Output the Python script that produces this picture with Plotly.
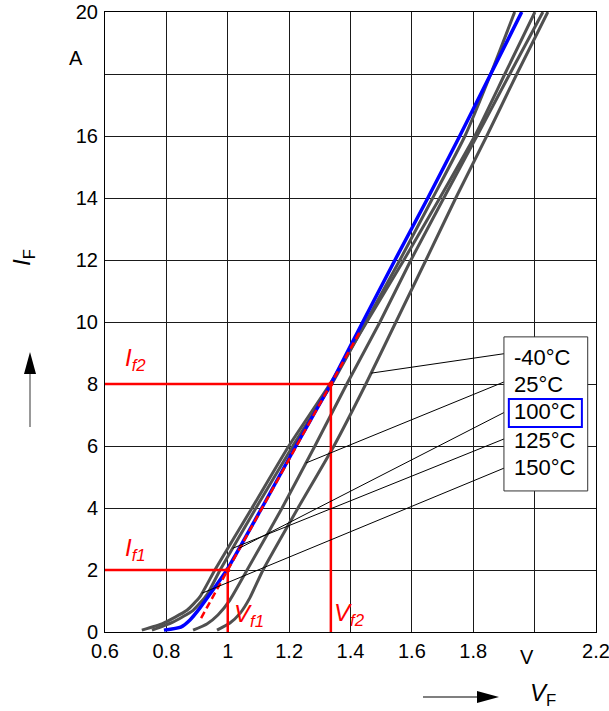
import numpy as np
import plotly.graph_objects as go

# Forward characteristics I_F = f(V_F) for several junction temperatures
i_m40 = [0.06, 0.29, 0.6, 1.1, 2, 4, 6, 8, 10, 12, 14, 16, 18, 20]
v_m40 = [0.965, 1.007, 1.040, 1.072, 1.115, 1.229, 1.346, 1.450, 1.548, 1.646, 1.743, 1.844, 1.942, 2.043]

i_25 = [0.06, 0.26, 0.55, 1.03, 2, 4, 6, 8, 10, 12, 14, 16, 18, 20]
v_25 = [0.887, 0.932, 0.968, 1.007, 1.063, 1.177, 1.284, 1.388, 1.496, 1.597, 1.704, 1.812, 1.919, 2.027]

i_100 = [0.06, 0.16, 0.39, 0.77, 2, 4, 6, 8, 10, 12, 14, 16, 18, 20]
v_100 = [0.792, 0.847, 0.877, 0.909, 0.997, 1.111, 1.222, 1.336, 1.440, 1.545, 1.652, 1.756, 1.857, 1.958]

i_125 = [0.06, 0.32, 0.7, 1.2, 2, 4, 6, 8, 10, 12, 14, 16, 18, 20]
v_125 = [0.753, 0.821, 0.887, 0.932, 0.975, 1.092, 1.212, 1.339, 1.450, 1.561, 1.668, 1.773, 1.857, 1.935]

i_150 = [0.06, 0.28, 0.7, 1.13, 2, 4, 6, 8, 10, 12, 14, 16, 18, 20]
v_150 = [0.720, 0.789, 0.867, 0.909, 0.958, 1.079, 1.199, 1.333, 1.453, 1.574, 1.691, 1.805, 1.903, 2.001]

# Linearisation points (threshold voltage / slope resistance construction)
vf1, if1 = 1.0, 2.0
vf2, if2 = 1.336, 8.0
tangent_current_span = [0.45, 9.65]

# Temperature labels and where their leader lines touch each curve (current in A)
temp_labels = ["-40°C", "25°C", "100°C", "125°C", "150°C"]
label_currents = [8.84, 7.97, 7.10, 6.19, 5.32]
leader_start_currents = [9.0, 8.13, 7.16, 6.29, 5.35]
leader_end_currents = [8.35, 5.45, 2.7, 2.7, 1.25]

x_ticks = [0.6, 0.8, 1.0, 1.2, 1.4, 1.6, 1.8, 2.0, 2.2]
x_ticktext = ["0.6", "0.8", "1", "1.2", "1.4", "1.6", "1.8", "", "2.2"]
y_ticks = [0, 2, 4, 6, 8, 10, 12, 14, 16, 18, 20]
y_ticktext = ["0", "2", "4", "6", "8", "10", "12", "14", "16", "", "20"]

W, H = 609, 711
ML, MR, MT, MB = 105, 13, 12, 79
PW, PH = W - ML - MR, H - MT - MB

FONT = "Liberation Sans, Arial, sans-serif"
GRAY = "#505050"
RED = "#ff0000"
BLUE = "#0000ff"


def paper(px, py):
    return (px - ML) / PW, (H - MB - py) / PH


fig = go.Figure()

curves = [
    (v_m40, i_m40, GRAY, 3),
    (v_25, i_25, GRAY, 3),
    (v_150, i_150, GRAY, 3),
    (v_125, i_125, GRAY, 3),
    (v_100, i_100, BLUE, 3.5),
]
for v, i, col, w in curves:
    fig.add_trace(go.Scatter(x=v, y=i, mode="lines",
                             line=dict(color=col, width=w, shape="spline", smoothing=0.5),
                             hoverinfo="skip", showlegend=False))

# Tangent through the two linearisation points
slope = (if2 - if1) / (vf2 - vf1)
t_i = np.array(tangent_current_span)
t_v = vf1 + (t_i - if1) / slope
fig.add_trace(go.Scatter(x=t_v, y=t_i, mode="lines",
                         line=dict(color=RED, width=2.5, dash="7px,4px"),
                         hoverinfo="skip", showlegend=False))

# Construction lines to the axes
for vf, iff in [(vf1, if1), (vf2, if2)]:
    fig.add_trace(go.Scatter(x=[0.6, vf, vf], y=[iff, iff, 0], mode="lines",
                             line=dict(color=RED, width=2.5),
                             hoverinfo="skip", showlegend=False))
fig.add_trace(go.Scatter(x=[vf1, vf2], y=[if1, if2], mode="markers",
                         marker=dict(color=RED, size=5),
                         hoverinfo="skip", showlegend=False))

# Leader lines from the temperature labels to the curves
curve_by_label = [(v_m40, i_m40), (v_25, i_25), (v_100, i_100), (v_125, i_125), (v_150, i_150)]
for (v, i), i_start, i_end in zip(curve_by_label, leader_start_currents, leader_end_currents):
    v_end = float(np.interp(i_end, i, v))
    fig.add_trace(go.Scatter(x=[1.916, v_end], y=[i_start, i_end], mode="lines",
                             line=dict(color="black", width=1),
                             hoverinfo="skip", showlegend=False))

shapes = []
# Label box
shapes.append(dict(type="rect", xref="x", yref="y", x0=1.900, x1=2.173, y0=4.55, y1=9.52,
                   line=dict(color="#333333", width=1), fillcolor="white", layer="above"))
# Highlight frame around the 100°C label
shapes.append(dict(type="rect", xref="x", yref="y", x0=1.916, x1=2.154, y0=6.61, y1=7.52,
                   line=dict(color=BLUE, width=2), layer="above"))

# Direction arrows next to the axis titles
x0, y0 = paper(30, 427)
x1, y1 = paper(30, 372)
shapes.append(dict(type="line", xref="paper", yref="paper", x0=x0, y0=y0, x1=x1, y1=y1,
                   line=dict(color="#555555", width=1.2)))
a, b = paper(24, 374)
c, d = paper(36, 374)
e, f = paper(30, 352)
shapes.append(dict(type="path", xref="paper", yref="paper",
                   path=f"M{a},{b} L{c},{d} L{e},{f} Z", fillcolor="black", line=dict(width=0)))

x0, y0 = paper(423, 697)
x1, y1 = paper(480, 697)
shapes.append(dict(type="line", xref="paper", yref="paper", x0=x0, y0=y0, x1=x1, y1=y1,
                   line=dict(color="black", width=1.2)))
a, b = paper(477, 691)
c, d = paper(477, 703)
e, f = paper(499, 697)
shapes.append(dict(type="path", xref="paper", yref="paper",
                   path=f"M{a},{b} L{c},{d} L{e},{f} Z", fillcolor="black", line=dict(width=0)))

annotations = []
for txt, ic in zip(temp_labels, label_currents):
    annotations.append(dict(x=1.926, y=ic, xref="x", yref="y", text=txt, showarrow=False,
                            xanchor="left", yanchor="middle",
                            font=dict(family=FONT, size=22, color="black")))

red_font = dict(family=FONT, size=24, color=RED)
red_marks = [
    ("<i>I</i><sub><i>f2</i></sub>", 0.699, 8.8),
    ("<i>I</i><sub><i>f1</i></sub>", 0.699, 2.65),
    ("<i>V</i><sub><i>f1</i></sub>", 1.068, 0.52),
    ("<i>V</i><sub><i>f2</i></sub>", 1.396, 0.55),
]
for txt, xv, yv in red_marks:
    annotations.append(dict(x=xv, y=yv, xref="x", yref="y", text=txt, showarrow=False,
                            xanchor="center", yanchor="middle", font=red_font))

# Unit labels in place of the 18 A / 2.0 V ticks
annotations.append(dict(x=paper(76, 0)[0], y=18.52, xref="paper", yref="y", text="A",
                        showarrow=False, xanchor="center", yanchor="middle",
                        font=dict(family=FONT, size=20, color="black")))
annotations.append(dict(x=1.975, y=paper(0, 657)[1], xref="x", yref="paper", text="V",
                        showarrow=False, xanchor="center", yanchor="middle",
                        font=dict(family=FONT, size=20, color="black")))

# Axis titles
annotations.append(dict(x=paper(23, 0)[0], y=paper(0, 258)[1], xref="paper", yref="paper",
                        text="<i>I</i><sub>F</sub>", textangle=-90, showarrow=False,
                        xanchor="center", yanchor="middle",
                        font=dict(family=FONT, size=24, color="black")))
annotations.append(dict(x=paper(543, 0)[0], y=paper(0, 694)[1], xref="paper", yref="paper",
                        text="<i>V</i><sub>F</sub>", showarrow=False,
                        xanchor="center", yanchor="middle",
                        font=dict(family=FONT, size=24, color="black")))

axis_common = dict(showgrid=True, gridcolor="#1a1a1a", gridwidth=1, showline=True,
                   linecolor="black", linewidth=1, mirror=True, zeroline=False, ticks="",
                   tickfont=dict(family=FONT, size=20, color="black"), fixedrange=True,
                   automargin=False)

fig.update_layout(
    width=W, height=H,
    margin=dict(l=ML, r=MR, t=MT, b=MB, pad=0),
    paper_bgcolor="white", plot_bgcolor="white",
    xaxis=dict(range=[0.6, 2.20001], tickvals=x_ticks, ticktext=x_ticktext,
               ticklabelstandoff=1, ticklabeloverflow="allow", **axis_common),
    yaxis=dict(range=[0, 20.0001], tickvals=y_ticks, ticktext=y_ticktext,
               ticklabelstandoff=2, ticklabeloverflow="allow", **axis_common),
    shapes=shapes,
    annotations=annotations,
    showlegend=False,
)

fig.write_html("out.html")
